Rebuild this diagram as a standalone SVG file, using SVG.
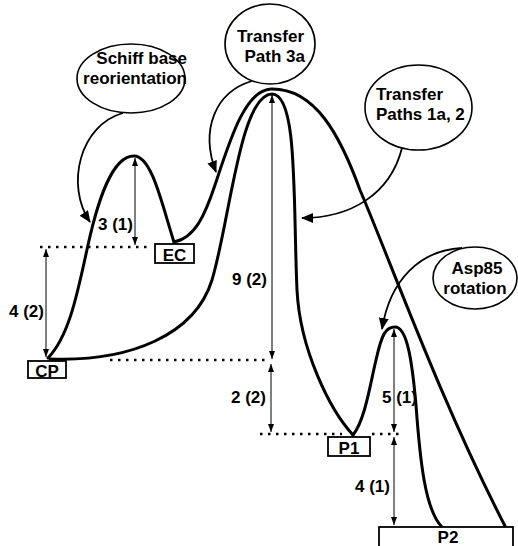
<svg xmlns="http://www.w3.org/2000/svg" width="518" height="546" viewBox="0 0 518 546">
<style>
text{font-family:"Liberation Sans",Arial,sans-serif;font-weight:bold;font-size:17px;fill:#000}
.curve{fill:none;stroke:#000;stroke-width:3;stroke-linecap:round;stroke-linejoin:round}
.callout{fill:none;stroke:#000;stroke-width:1.8;marker-end:url(#ah)}
.dim{fill:none;stroke:#000;stroke-width:1;marker-start:url(#dh);marker-end:url(#dh)}
.dot{fill:none;stroke:#000;stroke-width:2.5;stroke-dasharray:2.5 5.5}
.bubble{fill:#fff;stroke:#000;stroke-width:1.6}
.box{fill:#fff;stroke:#000;stroke-width:1.8}
</style>
<defs>
<marker id="ah" markerUnits="userSpaceOnUse" viewBox="0 0 12 10" refX="11" refY="5" markerWidth="12" markerHeight="10" orient="auto"><path d="M0,0 L12,5 L0,10 z" fill="#000"/></marker>
<marker id="dh" markerUnits="userSpaceOnUse" viewBox="0 0 8 6" refX="8" refY="3" markerWidth="8" markerHeight="6" orient="auto-start-reverse"><path d="M0,0 L8,3 L0,6 z" fill="#000"/></marker>
</defs>

<g id="levels">
<path class="dot" d="M40,247 H150"/>
<path class="dot" d="M110,360 H268"/>
<path class="dot" d="M260,434 H342"/>
<path class="dot" d="M372,434 H400"/>
</g>

<g id="connectors">
<path class="curve" d="M48,358 C70,335 78,290 88,245 C98,200 112,156 134,156 C152,156 162,205 174,242"/>
<path class="curve" d="M174,242 C195,238 205,215 215,185 C230,140 245,90 271,89 C315,88 340,135 360,190 C390,260 440,400 505,526"/>
<path class="curve" d="M50,359 C130,362 195,335 212,280 C230,220 240,95 272,94 C298,94 293,200 297,290 C300,350 330,410 353,435"/>
<path class="curve" d="M353,435 C365,420 370,385 376,360 C382,333 386,327 395,327 C407,327 412,360 416,405 C420,460 425,510 442,527"/>
<path class="callout" d="M123,113 C80,125 65,185 90,222"/>
<path class="callout" d="M252,81 C215,92 200,130 216,172"/>
<path class="callout" d="M402,148 C390,195 350,218 302,218"/>
<path class="callout" d="M462,248 C420,250 390,280 382,329"/>
<path class="dim" d="M135,158 V245"/>
<path class="dim" d="M46,249 V357"/>
<path class="dim" d="M272,95 V359"/>
<path class="dim" d="M271,364 V432"/>
<path class="dim" d="M394,329 V432"/>
<path class="dim" d="M394,437 V525"/>
</g>

<g id="dim-labels">
<text x="133" y="230" text-anchor="end">3 (1)</text>
<text x="44" y="317" text-anchor="end">4 (2)</text>
<text x="267" y="285" text-anchor="end">9 (2)</text>
<text x="266" y="403" text-anchor="end">2 (2)</text>
<text x="382" y="403">5 (1)</text>
<text x="390" y="492" text-anchor="end">4 (1)</text>
</g>

<g id="schiff">
<ellipse class="bubble" cx="131" cy="78.5" rx="54" ry="34.5"/>
<text x="187" y="64" text-anchor="end">Schiff base</text>
<text x="187" y="84" text-anchor="end">reorientation</text>
</g>
<g id="path3a">
<ellipse class="bubble" cx="270" cy="44" rx="45" ry="40"/>
<text x="304" y="42" text-anchor="end">Transfer</text>
<text x="305" y="62" text-anchor="end">Path 3a</text>
</g>
<g id="paths1a2">
<ellipse class="bubble" cx="418.5" cy="107.5" rx="53.5" ry="42.5"/>
<text x="376" y="100">Transfer</text>
<text x="376" y="120">Paths 1a, 2</text>
</g>
<g id="asp85">
<ellipse class="bubble" cx="475" cy="278" rx="42" ry="31"/>
<text x="477" y="274" text-anchor="middle">Asp85</text>
<text x="475" y="294" text-anchor="middle">rotation</text>
</g>

<g id="EC">
<rect class="box" x="155" y="244" width="39" height="19"/>
<text x="174.5" y="261" text-anchor="middle">EC</text>
</g>
<g id="CP">
<rect class="box" x="28" y="361" width="38" height="17"/>
<text x="47" y="377" text-anchor="middle">CP</text>
</g>
<g id="P1">
<rect class="box" x="328" y="437" width="42" height="19"/>
<text x="349" y="454" text-anchor="middle">P1</text>
</g>
<g id="P2">
<rect class="box" x="379" y="527" width="134" height="30"/>
<text x="448" y="543" text-anchor="middle">P2</text>
</g>
</svg>
